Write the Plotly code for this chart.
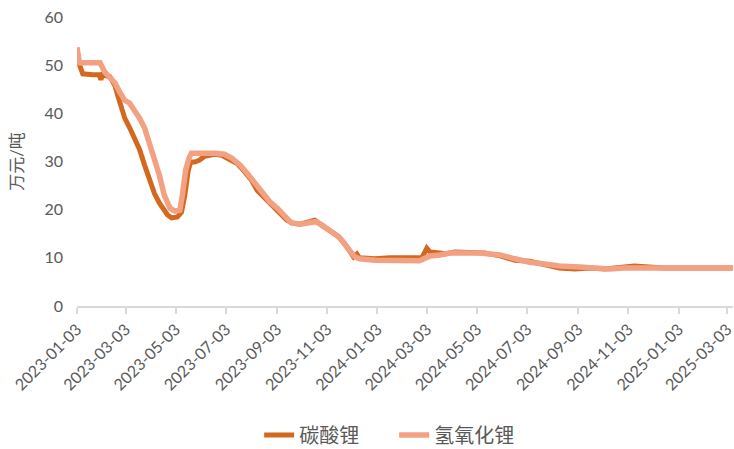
import plotly.graph_objects as go

# 碳酸锂 price (万元/吨)
carbonate_dates = [
    "2023-01-03", "2023-01-06", "2023-01-10", "2023-01-22", "2023-01-30", "2023-02-01",
    "2023-02-03", "2023-02-12", "2023-02-18", "2023-02-21", "2023-02-24", "2023-03-02",
    "2023-03-08", "2023-03-14", "2023-03-20", "2023-03-26", "2023-04-01", "2023-04-07",
    "2023-04-13", "2023-04-19", "2023-04-23", "2023-04-28", "2023-05-05", "2023-05-10",
    "2023-05-14", "2023-05-18", "2023-05-21", "2023-05-26", "2023-06-01", "2023-06-07",
    "2023-06-19", "2023-06-28", "2023-07-08", "2023-07-17", "2023-07-26", "2023-08-03",
    "2023-08-10", "2023-08-19", "2023-08-27", "2023-09-06", "2023-09-15", "2023-09-22",
    "2023-10-01", "2023-10-10", "2023-10-19", "2023-10-27", "2023-11-06", "2023-11-16",
    "2023-11-24", "2023-11-30", "2023-12-05", "2023-12-09", "2023-12-12", "2023-12-31",
    "2024-01-18", "2024-02-11", "2024-02-26", "2024-03-03", "2024-03-07", "2024-03-19",
    "2024-03-25", "2024-04-06", "2024-04-24", "2024-05-12", "2024-05-31", "2024-06-18",
    "2024-07-06", "2024-07-24", "2024-08-11", "2024-08-30", "2024-09-17", "2024-10-05",
    "2024-10-23", "2024-11-10", "2024-11-28", "2024-12-16", "2025-03-10",
]
carbonate_values = [
    51.5, 50.0, 48.2, 48.0, 48.0, 47.0,
    48.0, 47.6, 45.8, 44.0, 42.0, 39.0,
    37.0, 34.5, 32.5, 29.3, 26.5, 23.4,
    21.4, 20.0, 18.9, 18.3, 18.5, 19.5,
    23.0, 28.0, 29.9, 29.9, 30.3, 31.1,
    31.5, 31.3, 30.3, 29.5, 27.8, 26.1,
    24.0, 22.4, 21.0, 19.5, 17.8, 17.2,
    17.0, 17.4, 17.8, 16.8, 15.8, 14.5,
    13.0, 11.6, 10.2, 10.8, 10.0, 9.8,
    10.0, 10.0, 10.0, 12.0, 11.2, 11.0,
    10.8, 11.2, 11.2, 11.0, 10.4, 9.5,
    9.3, 8.7, 7.9, 7.7, 7.9, 7.7,
    8.1, 8.3, 8.1, 7.9, 7.9,
]

# 氢氧化锂 price (万元/吨)
hydroxide_dates = [
    "2023-01-03", "2023-01-06", "2023-01-19", "2023-01-31", "2023-02-06", "2023-02-12",
    "2023-02-18", "2023-02-24", "2023-03-02", "2023-03-08", "2023-03-14", "2023-03-20",
    "2023-03-26", "2023-04-01", "2023-04-07", "2023-04-13", "2023-04-19", "2023-04-26",
    "2023-05-02", "2023-05-08", "2023-05-11", "2023-05-15", "2023-05-19", "2023-05-22",
    "2023-06-19", "2023-07-01", "2023-07-10", "2023-07-20", "2023-07-29", "2023-08-07",
    "2023-08-15", "2023-08-25", "2023-09-04", "2023-09-12", "2023-09-20", "2023-10-01",
    "2023-10-13", "2023-10-20", "2023-10-27", "2023-11-06", "2023-11-18", "2023-11-28",
    "2023-12-06", "2023-12-12", "2023-12-31", "2024-02-23", "2024-02-29", "2024-03-07",
    "2024-03-19", "2024-03-31", "2024-05-06", "2024-05-31", "2024-06-18", "2024-07-06",
    "2024-07-24", "2024-08-11", "2024-09-05", "2024-09-23", "2024-10-11", "2024-10-29",
    "2025-03-10",
]
hydroxide_values = [
    53.7, 50.5, 50.5, 50.5, 48.5, 47.3,
    46.3, 44.4, 42.7, 42.1, 40.7, 39.0,
    37.0, 33.8, 30.7, 27.2, 23.0, 20.3,
    19.7, 19.9, 23.0, 28.2, 30.7, 31.7,
    31.7, 31.5, 30.7, 29.3, 27.5, 25.5,
    23.5, 21.7, 20.2, 18.7, 17.3, 17.0,
    17.2, 17.5, 16.9, 15.8, 14.2, 12.0,
    10.3, 9.8, 9.5, 9.4, 9.8, 10.4,
    10.6, 11.0, 11.0, 10.6, 9.8, 9.1,
    8.7, 8.3, 8.1, 7.9, 7.7, 7.9,
    7.9,
]

tick_dates = [
    "2023-01-03", "2023-03-03", "2023-05-03", "2023-07-03", "2023-09-03", "2023-11-03",
    "2024-01-03", "2024-03-03", "2024-05-03", "2024-07-03", "2024-09-03", "2024-11-03",
    "2025-01-03", "2025-03-03",
]
y_ticks = [0, 10, 20, 30, 40, 50, 60]

FONT = "Lato, 'Noto Sans CJK SC', sans-serif"
GREY = "#595959"

fig = go.Figure()
fig.add_trace(go.Scatter(
    x=carbonate_dates, y=carbonate_values, mode="lines", name="碳酸锂",
    line=dict(color="#D2691F", width=5),
))
fig.add_trace(go.Scatter(
    x=hydroxide_dates, y=hydroxide_values, mode="lines", name="氢氧化锂",
    line=dict(color="#F2A283", width=5.5),
))

fig.update_layout(
    width=734, height=449,
    margin=dict(l=77, r=1, t=17, b=143),
    paper_bgcolor="white", plot_bgcolor="white",
    font=dict(family=FONT, color=GREY, size=16),
    showlegend=True,
    legend=dict(
        orientation="h", xref="container", x=0.537, xanchor="center",
        yref="container", y=0.031, yanchor="middle",
        font=dict(size=20, color=GREY), entrywidth=90,
    ),
    xaxis=dict(
        type="date", range=["2023-01-03", "2025-03-10"],
        tickmode="array", tickvals=tick_dates, ticktext=tick_dates,
        tickangle=-45, tickfont=dict(size=16, color=GREY),
        ticklabeloverflow="allow",
        showgrid=False, showline=True, linecolor="#D9D9D9", linewidth=1.5,
        ticks="outside", ticklen=6, tickcolor="#D9D9D9", tickwidth=1.5,
        zeroline=False, automargin=False,
    ),
    yaxis=dict(
        range=[0, 60], tickmode="array", tickvals=y_ticks,
        tickfont=dict(size=16, color=GREY),
        showgrid=False, zeroline=False, showline=False,
        ticks="", ticklabelstandoff=13, automargin=False,
        title=dict(text="万元/吨", font=dict(size=17, color=GREY), standoff=16),
    ),
)

fig.write_html("out.html")
